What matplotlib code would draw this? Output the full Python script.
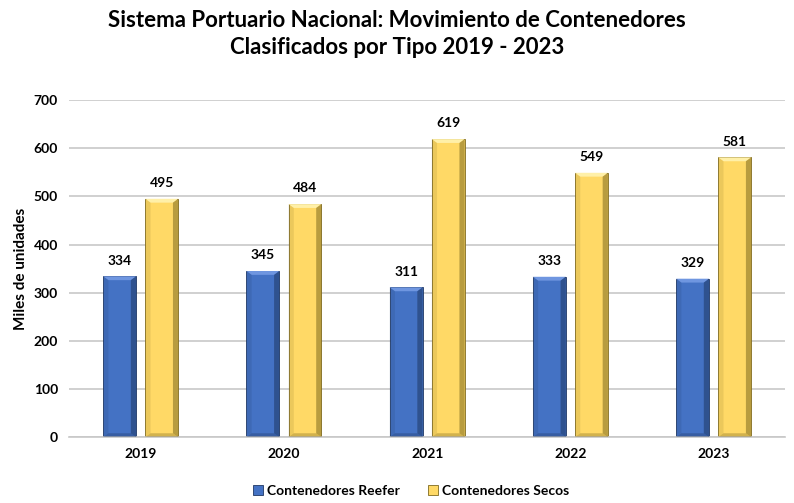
import numpy as np
import matplotlib.pyplot as plt
from matplotlib.patches import Polygon

plt.rcParams['font.family'] = ['Lato', 'DejaVu Sans']

years = ["2019", "2020", "2021", "2022", "2023"]
reefer = [334, 345, 311, 333, 329]
secos = [495, 484, 619, 549, 581]

series = [
    ("Contenedores Reefer", reefer, "#4472C4", "#6f96e0", "#1f3864"),
    ("Contenedores Secos", secos, "#FFD966", "#fff0a8", "#7f6a20"),
]

fig = plt.figure(figsize=(7.94, 5.03), dpi=100)
ax = fig.add_axes([0.087, 0.131, 0.902, 0.67])

x = np.arange(len(years))
width = 0.23
offsets = [-0.147, 0.147]


def bevel(ax, rect, light, dark):
    # fake the beveled look: light strip on top, dark strip on the right and bottom
    x0, y0 = rect.get_x(), rect.get_y()
    w, h = rect.get_width(), rect.get_height()
    bx = w * 0.16
    by = 8
    x1, y1 = x0 + w, y0 + h
    ax.add_patch(Polygon([(x0, y1), (x1, y1), (x1 - bx, y1 - by), (x0 + bx, y1 - by)],
                         closed=True, facecolor=light, edgecolor="none", zorder=3))
    ax.add_patch(Polygon([(x1, y1), (x1, y0), (x1 - bx, y0 + by), (x1 - bx, y1 - by)],
                         closed=True, facecolor=dark, edgecolor="none", alpha=0.55, zorder=3))
    ax.add_patch(Polygon([(x0, y0), (x1, y0), (x1 - bx, y0 + by), (x0 + bx, y0 + by)],
                         closed=True, facecolor=dark, edgecolor="none", alpha=0.35, zorder=3))
    ax.add_patch(Polygon([(x0, y1), (x0, y0), (x0 + bx, y0 + by), (x0 + bx, y1 - by)],
                         closed=True, facecolor=dark, edgecolor="none", alpha=0.15, zorder=3))


handles = []
for (name, vals, face, light, dark), off in zip(series, offsets):
    bars = ax.bar(x + off, vals, width, color=face, edgecolor=dark, linewidth=0.6,
                  zorder=2, label=name)
    handles.append(bars)
    for rect, v in zip(bars, vals):
        bevel(ax, rect, light, dark)
        ax.annotate(str(v), (rect.get_x() + rect.get_width() / 2, v),
                    xytext=(0, 7), textcoords="offset points",
                    ha="center", va="bottom", fontsize=10, fontweight="bold")

ax.set_ylim(0, 700)
ax.set_yticks(range(0, 701, 100))
ax.set_xlim(-0.5, len(years) - 0.5)
ax.set_xticks(x)
ax.set_xticklabels(years)
ax.yaxis.grid(True, color="#c8c8c8", linewidth=1.2, zorder=0)
ax.set_axisbelow(True)
for s in ["top", "right", "left"]:
    ax.spines[s].set_visible(False)
ax.spines["bottom"].set_color("#c8c8c8")
ax.spines["bottom"].set_linewidth(1.2)
ax.tick_params(axis="both", length=0, labelsize=10, pad=8)
for lbl in ax.get_xticklabels() + ax.get_yticklabels():
    lbl.set_fontweight("bold")
ax.set_ylabel("Miles de unidades", fontsize=11, fontweight="bold", labelpad=4)

fig.suptitle("Sistema Portuario Nacional: Movimiento de Contenedores\nClasificados por Tipo 2019 - 2023",
             fontsize=16, fontweight="bold", y=0.98, linespacing=1.35)

leg = fig.legend(handles=handles, loc="lower center", ncol=2, frameon=False,
                 bbox_to_anchor=(0.518, -0.012), fontsize=10, handlelength=0.7,
                 handleheight=0.7, columnspacing=2.0, handletextpad=0.3)
for t in leg.get_texts():
    t.set_fontweight("bold")

fig.savefig("out.png", dpi=100)
